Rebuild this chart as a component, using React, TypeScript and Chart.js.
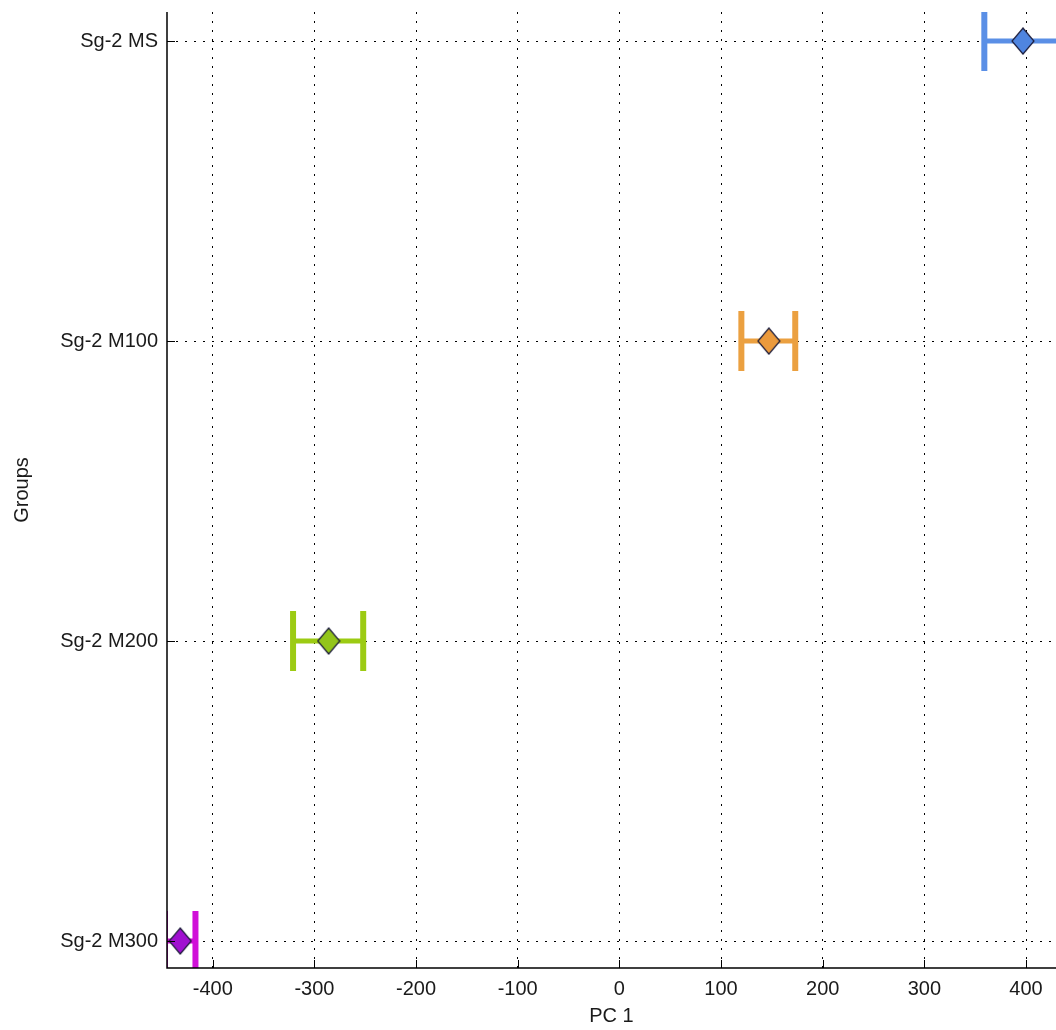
import React, { useEffect, useRef } from "react";
import { Chart, registerables } from "chart.js";

Chart.register(...registerables);

const groups = ["Sg-2 MS", "Sg-2 M100", "Sg-2 M200", "Sg-2 M300"];
const groupPos = [4, 3, 2, 1];
const means = [397, 147, -286, -432];
const lowers = [359, 120, -321, -447];
const uppers = [435, 173, -252, -417];
const barColors = ["#5a8fe6", "#eba040", "#9ccb13", "#d010d8"];
const markerColors = ["#4f85e0", "#eb9a3c", "#93c51a", "#a010d0"];
const xTicks = [-400, -300, -200, -100, 0, 100, 200, 300, 400];

function diamond(color: string) {
  const w = 24;
  const h = 28;
  const c = document.createElement("canvas");
  c.width = w;
  c.height = h;
  const ctx = c.getContext("2d")!;
  ctx.beginPath();
  ctx.moveTo(w / 2, 1);
  ctx.lineTo(w - 1, h / 2);
  ctx.lineTo(w / 2, h - 1);
  ctx.lineTo(1, h / 2);
  ctx.closePath();
  ctx.fillStyle = color;
  ctx.fill();
  ctx.strokeStyle = "#1c1c3a";
  ctx.lineWidth = 1.2;
  ctx.stroke();
  return c;
}

const errorBarPlugin = {
  id: "errorBars",
  beforeDatasetsDraw(chart: any) {
    const { ctx, chartArea, scales } = chart;
    const xs = scales.x;
    const ys = scales.y;
    ctx.save();
    ctx.beginPath();
    ctx.rect(chartArea.left, chartArea.top, chartArea.right - chartArea.left, chartArea.bottom - chartArea.top);
    ctx.clip();
    for (let i = 0; i < groups.length; i++) {
      const y = ys.getPixelForValue(groupPos[i]);
      const yT = ys.getPixelForValue(groupPos[i] + 0.1);
      const yB = ys.getPixelForValue(groupPos[i] - 0.1);
      const xl = xs.getPixelForValue(lowers[i]);
      const xu = xs.getPixelForValue(uppers[i]);
      ctx.strokeStyle = barColors[i];
      ctx.lineCap = "butt";
      ctx.lineWidth = 5;
      ctx.beginPath();
      ctx.moveTo(xl, y);
      ctx.lineTo(xu, y);
      ctx.stroke();
      ctx.lineWidth = 6;
      ctx.beginPath();
      ctx.moveTo(xl, yT);
      ctx.lineTo(xl, yB);
      ctx.moveTo(xu, yT);
      ctx.lineTo(xu, yB);
      ctx.stroke();
    }
    ctx.restore();
  },
  afterDraw(chart: any) {
    const { ctx, chartArea, scales } = chart;
    const xs = scales.x;
    const ys = scales.y;
    ctx.save();
    ctx.strokeStyle = "#000";
    ctx.lineWidth = 1;
    ctx.beginPath();
    for (const v of xTicks) {
      const x = Math.round(xs.getPixelForValue(v)) + 0.5;
      ctx.moveTo(x, chartArea.bottom);
      ctx.lineTo(x, chartArea.bottom - 8);
    }
    for (const v of groupPos) {
      const y = Math.round(ys.getPixelForValue(v)) + 0.5;
      ctx.moveTo(chartArea.left, y);
      ctx.lineTo(chartArea.left + 8, y);
    }
    ctx.stroke();
    ctx.lineWidth = 1.5;
    ctx.beginPath();
    ctx.moveTo(chartArea.left, chartArea.top);
    ctx.lineTo(chartArea.left, chartArea.bottom);
    ctx.lineTo(chartArea.right, chartArea.bottom);
    ctx.stroke();
    ctx.restore();
  },
};

export default function App() {
  const ref = useRef<HTMLCanvasElement>(null);
  useEffect(() => {
    if (!ref.current) return;
    const font = { family: "Arial, 'Liberation Sans', sans-serif", size: 20 };
    const chart = new Chart(ref.current, {
      type: "scatter",
      data: {
        datasets: [
          {
            data: means.map((m, i) => ({ x: m, y: groupPos[i] })),
            pointStyle: markerColors.map((c) => diamond(c)),
            pointRadius: 12,
            clip: false,
          } as any,
        ],
      },
      options: {
        animation: false,
        responsive: false,
        layout: { autoPadding: false, padding: { top: 12, left: 0, right: 0, bottom: 0 } },
        plugins: { legend: { display: false }, tooltip: { enabled: false } },
        scales: {
          x: {
            type: "linear",
            min: -445,
            max: 429.5,
            afterBuildTicks: (s: any) => {
              s.ticks = xTicks.map((v) => ({ value: v }));
            },
            afterFit: (s: any) => {
              s.height = 62;
              s.paddingLeft = 0;
              s.paddingRight = 0;
            },
            border: { display: false, dash: [2, 7] },
            grid: {
              color: "#000",
              lineWidth: 1,
              drawTicks: false,
            },
            ticks: { color: "#1a1a1a", font, padding: 9, maxRotation: 0 },
            title: { display: true, text: "PC 1", color: "#1a1a1a", font, padding: { top: 0, bottom: 2 } },
          },
          y: {
            type: "linear",
            min: 0.91,
            max: 4.097,
            afterBuildTicks: (s: any) => {
              s.ticks = groupPos.map((v) => ({ value: v }));
            },
            afterFit: (s: any) => {
              s.width = 167;
              s.paddingTop = 0;
              s.paddingBottom = 0;
            },
            border: { display: false, dash: [2, 7] },
            grid: {
              color: "#000",
              lineWidth: 1,
              drawTicks: false,
            },
            ticks: {
              color: "#1a1a1a",
              font,
              padding: 9,
              callback: (v: any) => {
                const i = groupPos.indexOf(Number(v));
                return i >= 0 ? groups[i] : "";
              },
            },
            title: { display: true, text: "Groups", color: "#1a1a1a", font, padding: { top: 10, bottom: 0 } },
          },
        },
      },
      plugins: [errorBarPlugin],
    } as any);
    return () => chart.destroy();
  }, []);
  return (
    <div style={{ position: "absolute", left: 0, top: 0, width: 1056, height: 1030, background: "#fff" }}>
      <canvas ref={ref} width={1056} height={1030} style={{ width: 1056, height: 1030 }} />
    </div>
  );
}
